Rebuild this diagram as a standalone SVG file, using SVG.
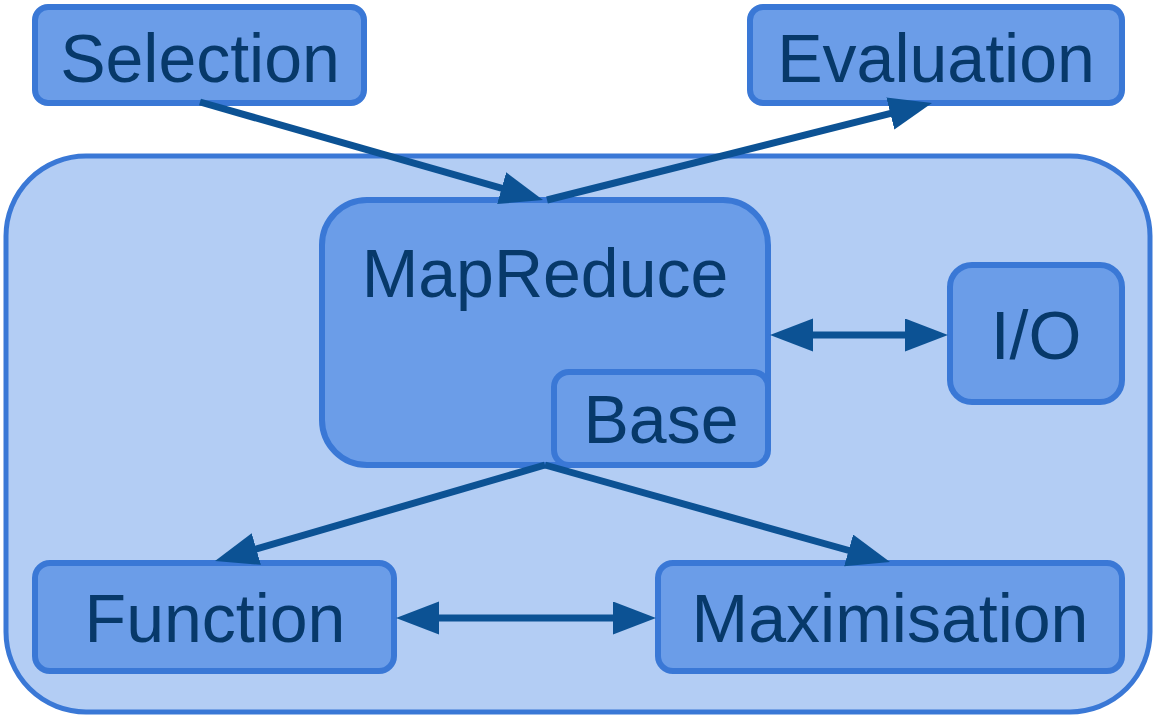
<svg xmlns="http://www.w3.org/2000/svg" width="1156" height="718" viewBox="0 0 1156 718">
<style>
.box{fill:#6b9de8;stroke:#3a78d6;stroke-width:6}
.lbl{font-family:"Liberation Sans",Arial,sans-serif;font-size:68px;fill:#07396a;text-anchor:middle}
.edge{stroke:#0c5294;stroke-width:7;fill:none}
</style>
<defs>
<marker id="ah" markerUnits="userSpaceOnUse" markerWidth="44" markerHeight="34" refX="30" refY="16.5" orient="auto-start-reverse" viewBox="0 0 44 34">
<path d="M0,0 L43,16.5 L0,33 z" fill="#0c5294"/>
</marker>
</defs>
<g id="container">
<rect x="6" y="156" width="1144" height="556" rx="80" ry="80" fill="#b3cdf4" stroke="#3a78d6" stroke-width="5"/>
</g>
<g id="selection">
<rect class="box" x="35" y="7" width="329" height="96" rx="13"/>
<text class="lbl" x="200" y="82">Selection</text>
</g>
<g id="evaluation">
<rect class="box" x="750" y="7" width="372" height="96" rx="13"/>
<text class="lbl" x="936" y="82">Evaluation</text>
</g>
<g id="mapreduce">
<rect class="box" x="322" y="200" width="446" height="265" rx="45"/>
<text class="lbl" x="545" y="297">MapReduce</text>
</g>
<g id="base">
<rect class="box" x="554" y="372" width="214" height="93" rx="15"/>
<text class="lbl" x="661" y="443">Base</text>
</g>
<g id="io">
<rect class="box" x="950" y="265" width="172" height="137" rx="22"/>
<text class="lbl" x="1036" y="359">I/O</text>
</g>
<g id="function">
<rect class="box" x="35" y="563" width="359" height="108" rx="15"/>
<text class="lbl" x="215" y="642">Function</text>
</g>
<g id="maximisation">
<rect class="box" x="658" y="563" width="464" height="108" rx="15"/>
<text class="lbl" x="890" y="642">Maximisation</text>
</g>
<g id="connectors">
<path class="edge" d="M200,102 L530.5,196.4" marker-end="url(#ah)"/>
<path class="edge" d="M547,200 L919.4,106.2" marker-end="url(#ah)"/>
<path class="edge" d="M545,465 L227.5,557.4" marker-end="url(#ah)"/>
<path class="edge" d="M545,465 L877.5,558.5" marker-end="url(#ah)"/>
<path class="edge" d="M783,335 L935,335" marker-start="url(#ah)" marker-end="url(#ah)"/>
<path class="edge" d="M409,618 L643,618" marker-start="url(#ah)" marker-end="url(#ah)"/>
</g>
</svg>
